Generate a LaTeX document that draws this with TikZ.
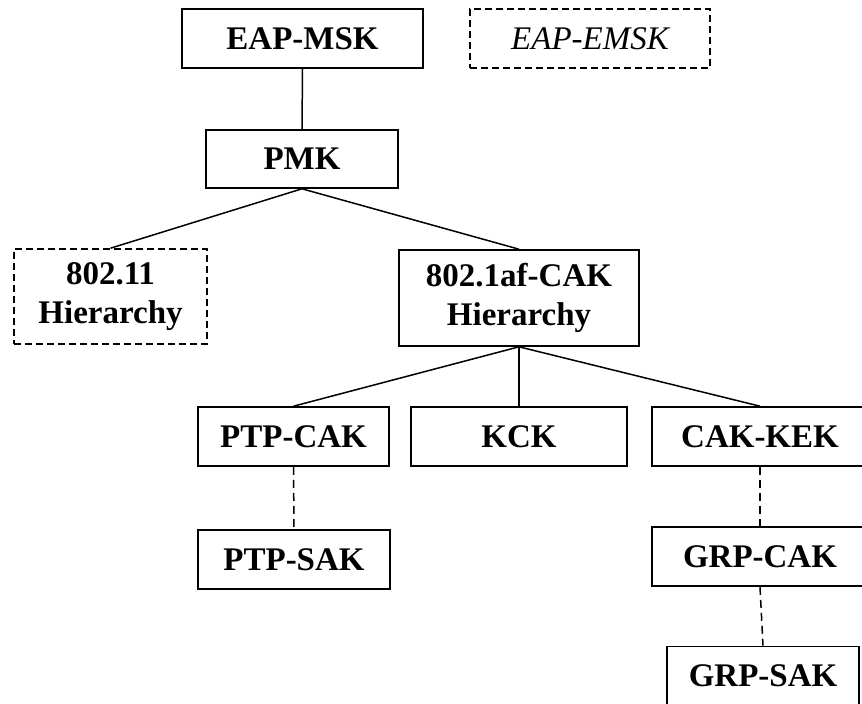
\documentclass[tikz,border=0pt]{standalone}
\usepackage{fontspec}
\setmainfont{Liberation Serif}
\begin{document}
\begin{tikzpicture}[x=1pt,y=-1pt,
  keybox/.style={draw,line width=1.6pt,rectangle,inner sep=0pt,align=center,
    font=\fontsize{33}{39}\selectfont\bfseries},
  dashbox/.style={keybox,dash pattern=on 7pt off 4pt},
  link/.style={line width=1.5pt},
  dlink/.style={line width=1.5pt,dash pattern=on 8pt off 5pt}]
\clip (0,0) rectangle (862,704);
\node[keybox,minimum width=241pt,minimum height=59pt] (msk) at (302.5,38.5) {EAP-MSK};
\node[dashbox,minimum width=240pt,minimum height=59pt,font=\fontsize{33}{39}\selectfont\itshape] (emsk) at (590,38.5) {EAP-EMSK};
\node[keybox,minimum width=192pt,minimum height=58pt] (pmk) at (302,159) {PMK};
\node[dashbox,minimum width=193pt,minimum height=95pt] (w11) at (110.5,296.5) {802.11\\Hierarchy};
\node[keybox,minimum width=240pt,minimum height=96pt] (af) at (519,298) {802.1af-CAK\\Hierarchy};
\node[keybox,minimum width=191pt,minimum height=59pt] (ptpcak) at (293.5,436.5) {PTP-CAK};
\node[keybox,minimum width=216pt,minimum height=59pt] (kck) at (519,436.5) {KCK};
\node[keybox,minimum width=216pt,minimum height=59pt] (cakkek) at (760,436.5) {CAK-KEK};
\node[keybox,minimum width=192pt,minimum height=59pt] (ptpsak) at (294,559.5) {PTP-SAK};
\node[keybox,minimum width=216pt,minimum height=59pt] (grpcak) at (760,556.5) {GRP-CAK};
\node[keybox,minimum width=192pt,minimum height=59pt] (grpsak) at (763,676) {GRP-SAK};
\draw[link] (msk.south) -- (pmk.north);
\draw[link] (pmk.south) -- (w11.north);
\draw[link] (pmk.south) -- (af.north);
\draw[link] (af.south) -- (ptpcak.north);
\draw[link] (af.south) -- (kck.north);
\draw[link] (af.south) -- (cakkek.north);
\draw[dlink] (ptpcak.south) -- (ptpsak.north);
\draw[dlink] (cakkek.south) -- (grpcak.north);
\draw[dlink] (grpcak.south) -- (grpsak.north);
\end{tikzpicture}
\end{document}
